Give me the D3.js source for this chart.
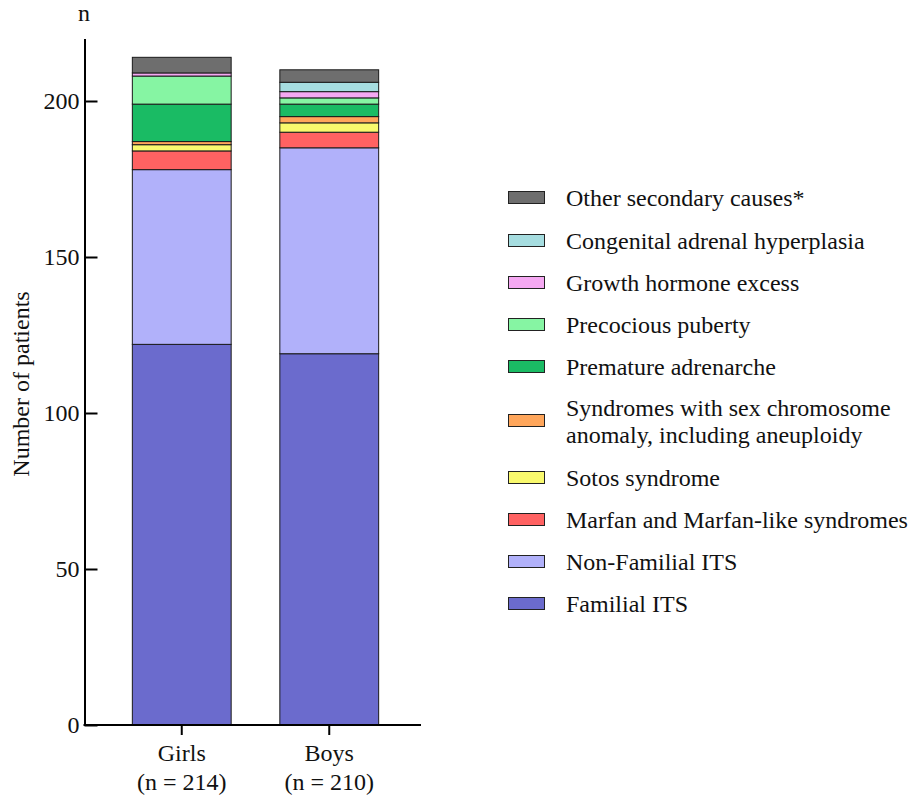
<!DOCTYPE html>
<html>
<head>
<meta charset="utf-8">
<script src="https://cdn.jsdelivr.net/npm/d3@7"></script>
<style>
  html, body { margin: 0; padding: 0; background: #fff; }
  svg { display: block; }
</style>
</head>
<body>
<svg id="chart" width="912" height="799"></svg>
<script>
// Groups along the x axis
const groups = ["Girls", "Boys"];
const groupSizes = ["(n = 214)", "(n = 210)"];

// Causes, bottom of the stack first
const causes = [
  "Familial ITS",
  "Non-Familial ITS",
  "Marfan and Marfan-like syndromes",
  "Sotos syndrome",
  "Syndromes with sex chromosome anomaly, including aneuploidy",
  "Premature adrenarche",
  "Precocious puberty",
  "Growth hormone excess",
  "Congenital adrenal hyperplasia",
  "Other secondary causes*"
];

// Patients per cause, in the order of `causes`
const girlsCounts = [122, 56, 6, 2, 1, 12, 9, 1, 0, 5];
const boysCounts  = [119, 66, 5, 3, 2, 4, 2, 2, 3, 4];

const causeColors = [
  "#6b6bcd", "#b1b1fa", "#ff6262", "#f9f96d", "#ffa65b",
  "#1abb64", "#86f5a3", "#f5a8f2", "#a6dde0", "#6e6e6e"
];

// Legend text lines (multi-line entry split by hand)
const legendLines = {
  "Syndromes with sex chromosome anomaly, including aneuploidy":
    ["Syndromes with sex chromosome", "anomaly, including aneuploidy"]
};

const yTicks = [0, 50, 100, 150, 200];

const FONT = "'Liberation Serif', 'Times New Roman', serif";
const FS = "24px";
const INK = "#111";

const svg = d3.select("#chart");

const y = d3.scaleLinear().domain([0, 220]).range([725, 38.6]);
const x = d3.scaleBand().domain(groups).range([108, 403])
  .paddingInner(0.33).paddingOuter(0.165);

// Stack the counts
const rows = groups.map((g, i) => {
  const r = { group: g };
  const src = i === 0 ? girlsCounts : boysCounts;
  causes.forEach((c, j) => { r[c] = src[j]; });
  return r;
});
const stacked = d3.stack().keys(causes)(rows);

const layers = svg.append("g").selectAll("g")
  .data(stacked)
  .join("g")
  .attr("fill", (d, i) => causeColors[i]);

layers.selectAll("rect")
  .data(d => d.filter(s => s[1] - s[0] > 0))
  .join("rect")
  .attr("x", d => x(d.data.group))
  .attr("width", x.bandwidth())
  .attr("y", d => y(d[1]))
  .attr("height", d => y(d[0]) - y(d[1]))
  .attr("stroke", "#1a1a1a")
  .attr("stroke-width", 1);

function addText(sel, xPos, yPos, str, anchor) {
  return sel.append("text")
    .attr("x", xPos).attr("y", yPos)
    .attr("text-anchor", anchor || "start")
    .style("font-family", FONT).style("font-size", FS)
    .attr("fill", INK)
    .text(str);
}

// Y axis (ticks point inward)
const yAxis = svg.append("g")
  .attr("transform", "translate(84.5,0)")
  .call(d3.axisLeft(y).tickValues(yTicks).tickSize(-13).tickSizeOuter(0).tickPadding(5));
yAxis.selectAll("line, path").attr("stroke", "#000").attr("stroke-width", 2);
yAxis.selectAll("text")
  .style("font-family", FONT).style("font-size", FS).attr("fill", INK);

// X axis
const xAxis = svg.append("g")
  .attr("transform", "translate(0,725)")
  .call(d3.axisBottom(x).tickSize(10).tickSizeOuter(0).tickFormat(""));
xAxis.select(".domain").remove();
xAxis.selectAll("line").attr("stroke", "#000").attr("stroke-width", 2);
xAxis.append("line")
  .attr("x1", 83.5).attr("x2", 421).attr("y1", 0).attr("y2", 0)
  .attr("stroke", "#000").attr("stroke-width", 2);

groups.forEach((g, i) => {
  const cx = x(g) + x.bandwidth() / 2;
  addText(svg, cx, 761, g, "middle");
  addText(svg, cx, 790, groupSizes[i], "middle");
});

// Unit label on top of the y axis
addText(svg, 84, 21, "n", "middle");

// Y axis title
svg.append("text")
  .attr("transform", "translate(29,384) rotate(-90)")
  .attr("text-anchor", "middle")
  .style("font-family", FONT).style("font-size", FS).attr("fill", INK)
  .text("Number of patients");

// Legend, top entry is the top of the stack
const legendOrder = causes.slice().reverse();
const legendRowY = [198, 241, 283, 325, 367, 421, 478, 520, 562, 604];
const legend = svg.append("g");
legendOrder.forEach((c, k) => {
  const ci = causes.indexOf(c);
  const cy = legendRowY[k];
  legend.append("rect")
    .attr("x", 508.5).attr("y", cy - 6.5)
    .attr("width", 36).attr("height", 12)
    .attr("fill", causeColors[ci])
    .attr("stroke", "#222").attr("stroke-width", 1);
  const lines = legendLines[c] || [c];
  const lh = 27;
  lines.forEach((t, li) => {
    addText(legend, 566, cy + 8 + (li - (lines.length - 1) / 2) * lh, t);
  });
});
</script>
</body>
</html>
